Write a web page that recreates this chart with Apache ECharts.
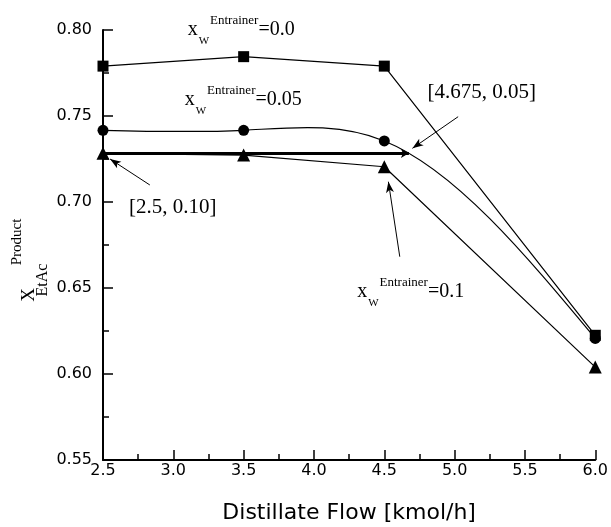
<!DOCTYPE html>
<html>
<head>
<meta charset="utf-8">
<script src="https://cdn.jsdelivr.net/npm/echarts@6/dist/echarts.min.js"></script>
<style>
  html, body { margin: 0; padding: 0; background: #fff; }
  #chart { width: 611px; height: 527px; }
</style>
</head>
<body>
<div id="chart"></div>
<script>
// Distillate flow (kmol/h) at which each column was simulated
const flowKmolH = [2.5, 3.5, 4.5, 6.0];
// Ethyl acetate mole fraction in the product for each entrainer level
const purityEntr000 = [0.779, 0.7845, 0.779, 0.6225];
const purityEntr005 = [0.7417, 0.7417, 0.7355, 0.6207];
const purityEntr010 = [0.7283, 0.7273, 0.7205, 0.604];
const entrainerLevels = ['0.0', '0.05', '0.1'];

// Iso-purity line from [2.5, 0.10] to [4.675, 0.05]
const isoFlow = [2.5, 4.675];
const isoPurity = 0.7283;

// Call-out arrows: tail and head, in axis units
const arrowTail = [[2.833, 0.7099], [5.025, 0.7496], [4.610, 0.6682]];
const arrowHead = [[2.55, 0.725], [4.70, 0.7312], [4.529, 0.7118]];

// Operating-point captions and their anchors (axis units)
const pointCaptions = ['[2.5, 0.10]', '[4.675, 0.05]'];
const pointCaptionAt = [[2.996, 0.6971], [5.192, 0.7634]];
const levelLabelAt = [[3.102, 0.8003], [3.081, 0.7597], [4.307, 0.648]];

const xTicks = { min: 2.5, max: 6.0, step: 0.5 };
const yTicks = { min: 0.55, max: 0.80, step: 0.05 };

const INK = '#000';
const SANS = '"DejaVu Sans", sans-serif';
const SERIF = '"Liberation Serif", "Times New Roman", serif';

const pairs = ys => flowKmolH.map((x, i) => [x, ys[i]]);

// Second derivatives of a natural cubic spline through (xs, ys)
function splineSecondDerivs(xs, ys) {
  const n = xs.length;
  const M = new Array(n).fill(0);
  if (n < 3) return M;
  const a = [], b = [], c = [], d = [];
  for (let i = 1; i < n - 1; i++) {
    const h0 = xs[i] - xs[i - 1], h1 = xs[i + 1] - xs[i];
    a.push(h0); b.push(2 * (h0 + h1)); c.push(h1);
    d.push(6 * ((ys[i + 1] - ys[i]) / h1 - (ys[i] - ys[i - 1]) / h0));
  }
  const m = b.length;
  for (let i = 1; i < m; i++) {
    const w = a[i] / b[i - 1];
    b[i] -= w * c[i - 1];
    d[i] -= w * d[i - 1];
  }
  const sol = new Array(m);
  sol[m - 1] = d[m - 1] / b[m - 1];
  for (let i = m - 2; i >= 0; i--) sol[i] = (d[i] - c[i] * sol[i + 1]) / b[i];
  for (let i = 0; i < m; i++) M[i + 1] = sol[i];
  return M;
}

// Custom series drawing one Bezier segment of the spline per interval
function splineSeries(xs, ys, z) {
  const M = splineSecondDerivs(xs, ys);
  return {
    type: 'custom',
    silent: true,
    z: z,
    data: xs.map((x, i) => [x, ys[i]]),
    encode: { x: 0, y: 1 },
    renderItem: function (params, api) {
      const i = params.dataIndex;
      if (i >= xs.length - 1) return;
      const x0 = xs[i], x1 = xs[i + 1], y0 = ys[i], y1 = ys[i + 1];
      const h = x1 - x0;
      const s0 = (y1 - y0) / h - h * (2 * M[i] + M[i + 1]) / 6;
      const s1 = (y1 - y0) / h + h * (M[i] + 2 * M[i + 1]) / 6;
      const p0 = api.coord([x0, y0]);
      const p3 = api.coord([x1, y1]);
      const c1 = api.coord([x0 + h / 3, y0 + s0 * h / 3]);
      const c2 = api.coord([x1 - h / 3, y1 - s1 * h / 3]);
      return {
        type: 'bezierCurve',
        shape: {
          x1: p0[0], y1: p0[1], x2: p3[0], y2: p3[1],
          cpx1: c1[0], cpy1: c1[1], cpx2: c2[0], cpy2: c2[1]
        },
        style: { stroke: INK, fill: null, lineWidth: 1.2 }
      };
    }
  };
}

const chart = echarts.init(document.getElementById('chart'), null, { renderer: 'canvas' });

const axisCommon = {
  type: 'value',
  axisLine: { show: true, onZero: false, lineStyle: { color: INK, width: 2 } },
  axisTick: { show: true, inside: true, length: 10, lineStyle: { color: INK, width: 1.5 } },
  minorTick: { show: true, splitNumber: 2, length: 6, lineStyle: { color: INK, width: 1.5 } },
  splitLine: { show: false },
  minorSplitLine: { show: false }
};

const markerLine = { color: INK, width: 1.2 };

chart.setOption({
  animation: false,
  backgroundColor: '#fff',
  grid: { left: 103, right: 14, top: 30, bottom: 67, containLabel: false },
  xAxis: Object.assign({}, axisCommon, {
    min: xTicks.min, max: xTicks.max, interval: xTicks.step,
    axisLabel: {
      color: INK, fontFamily: SANS, fontSize: 16, margin: 3,
      formatter: v => v.toFixed(1)
    }
  }),
  yAxis: Object.assign({}, axisCommon, {
    min: yTicks.min, max: yTicks.max, interval: yTicks.step,
    axisLabel: {
      color: INK, fontFamily: SANS, fontSize: 16, margin: 11,
      formatter: v => v.toFixed(2)
    }
  }),
  series: [
    {
      type: 'line', name: 'x=0.0', data: pairs(purityEntr000),
      symbol: 'rect', symbolSize: 11,
      lineStyle: markerLine, itemStyle: { color: INK }, z: 3
    },
    splineSeries(flowKmolH, purityEntr005, 2),
    {
      type: 'scatter', name: 'x=0.05', data: pairs(purityEntr005),
      symbol: 'circle', symbolSize: 11,
      itemStyle: { color: INK, opacity: 1 }, z: 2
    },
    {
      type: 'line', name: 'x=0.1', data: pairs(purityEntr010),
      symbol: 'triangle', symbolSize: 13,
      lineStyle: markerLine, itemStyle: { color: INK }, z: 4,
      markLine: {
        silent: true,
        animation: false,
        symbol: ['none', 'arrow'],
        symbolSize: [6, 11],
        label: { show: false },
        lineStyle: { color: INK, width: 1, type: 'solid' },
        data: [
          [
            { coord: [isoFlow[0], isoPurity], lineStyle: { width: 3, color: INK, type: 'solid' } },
            { coord: [isoFlow[1], isoPurity], lineStyle: { width: 3, color: INK, type: 'solid' }, symbolSize: [7, 8] }
          ]
        ].concat(arrowTail.map((t, i) => [{ coord: t }, { coord: arrowHead[i] }]))
      }
    }
  ]
});

// text width helper for laying out sub/superscripts
const measureCtx = document.createElement('canvas').getContext('2d');
function textWidth(text, size, family) {
  measureCtx.font = size + 'px ' + family;
  return measureCtx.measureText(text).width;
}
function label(x, y, text, size, family, opts) {
  opts = opts || {};
  return {
    type: 'text', x: x, y: y, silent: true,
    rotation: opts.rotation || 0,
    style: {
      text: text, fontSize: size, fontFamily: family, fill: INK,
      align: opts.align || 'left', verticalAlign: 'middle'
    }
  };
}
// x_W^Entrainer = level
function levelLabel(anchor, level) {
  const p = chart.convertToPixel({ gridIndex: 0 }, anchor);
  const x0 = p[0], y0 = p[1];
  const wX = x0 + textWidth('x', 20, SERIF) + 1;
  const eX = wX + textWidth('W', 11, SERIF) + 1;
  const vX = eX + textWidth('Entrainer', 13, SERIF);
  return [
    label(x0, y0, 'x', 20, SERIF),
    label(wX, y0 + 12, 'W', 11, SERIF),
    label(eX, y0 - 9, 'Entrainer', 13, SERIF),
    label(vX, y0, '=' + level, 20, SERIF)
  ];
}

let graphics = [];
levelLabelAt.forEach((a, i) => { graphics = graphics.concat(levelLabel(a, entrainerLevels[i])); });
pointCaptions.forEach((t, i) => {
  const p = chart.convertToPixel({ gridIndex: 0 }, pointCaptionAt[i]);
  graphics.push(label(p[0], p[1], t, 21, SERIF, { align: 'center' }));
});

// axis titles
const gridLeft = chart.convertToPixel({ gridIndex: 0 }, [xTicks.min, yTicks.min]);
const gridRight = chart.convertToPixel({ gridIndex: 0 }, [xTicks.max, yTicks.min]);
graphics.push(label((gridLeft[0] + gridRight[0]) / 2, gridLeft[1] + 53, 'Distillate Flow [kmol/h]', 22, SANS, { align: 'center' }));
const up = Math.PI / 2;
graphics.push(label(29, 295, 'X', 19, SERIF, { align: 'center', rotation: up }));
graphics.push(label(43, 280, 'EtAc', 16, SERIF, { align: 'center', rotation: up }));
graphics.push(label(17, 242, 'Product', 15, SERIF, { align: 'center', rotation: up }));

chart.setOption({ graphic: graphics });
</script>
</body>
</html>
